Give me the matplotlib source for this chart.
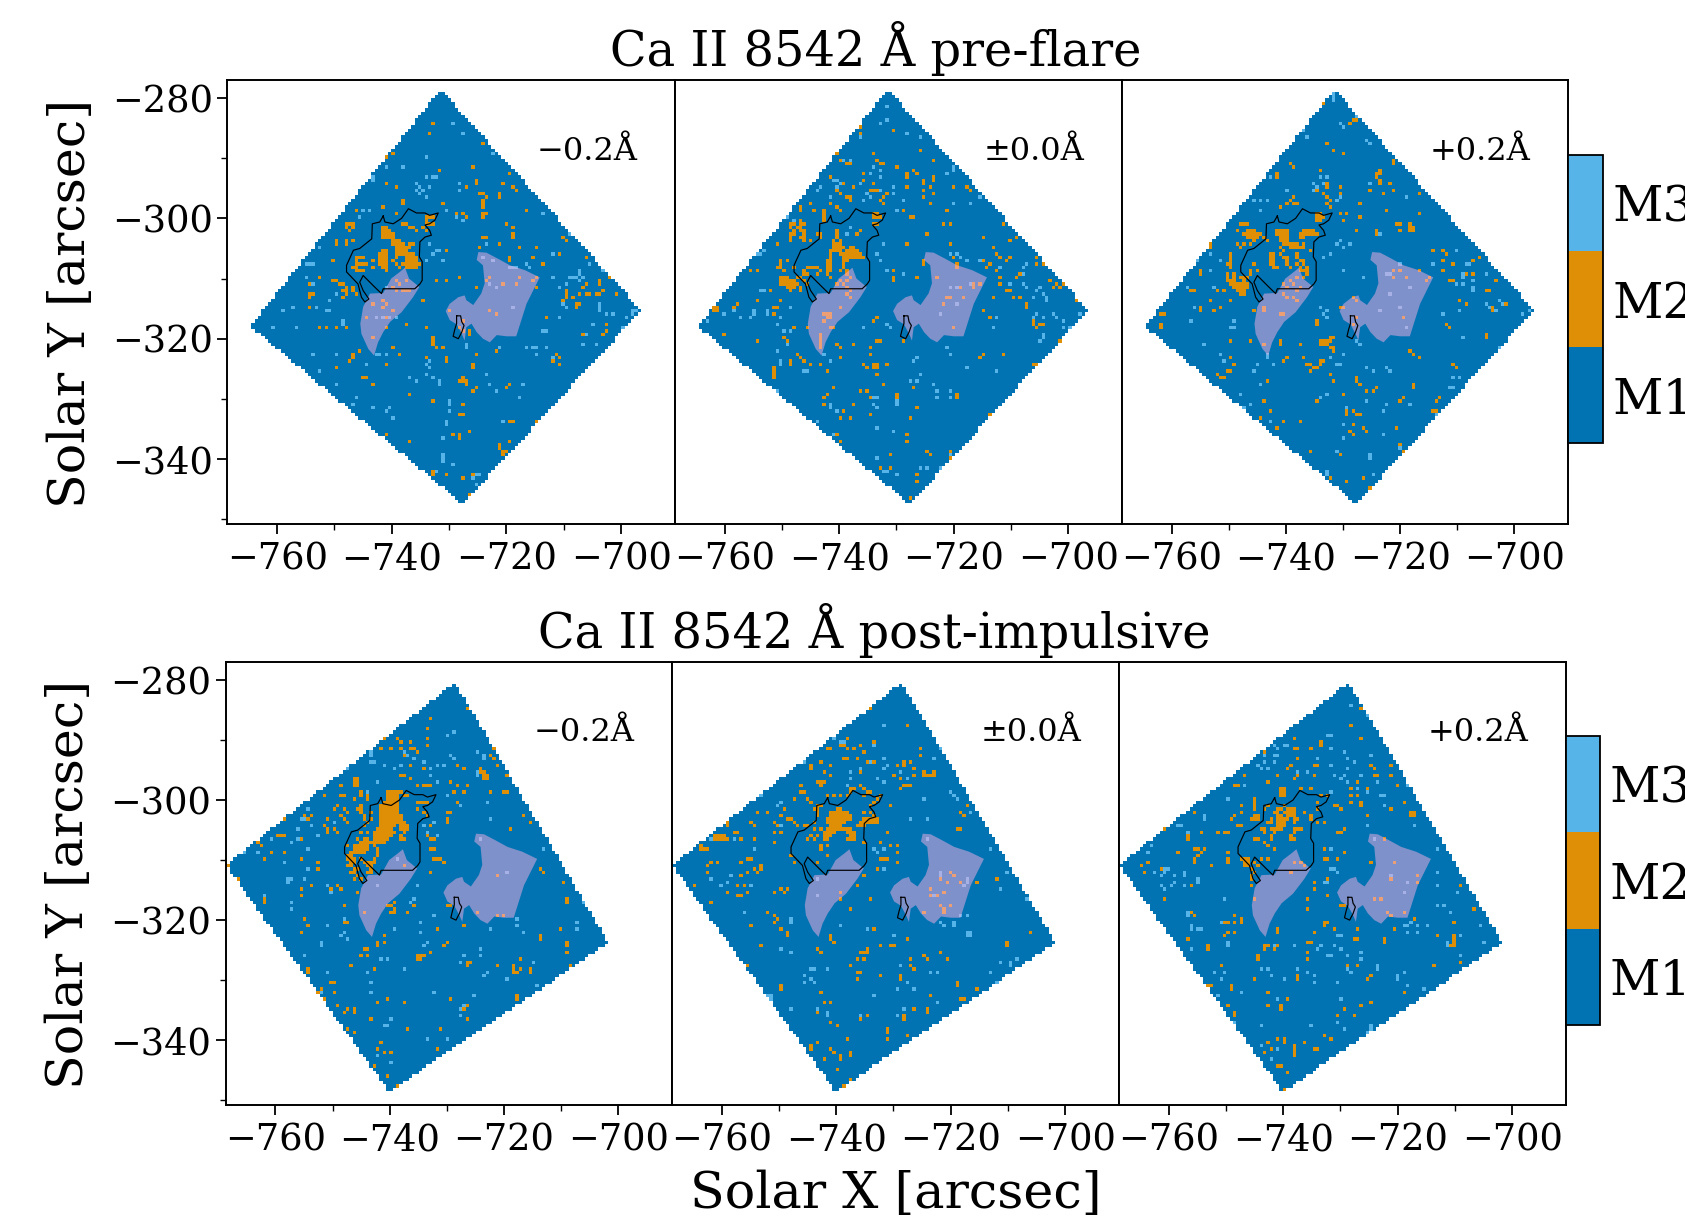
"""Ca II 8542 k-means style class maps, pre-flare and post-impulsive."""
import numpy as np
import matplotlib
matplotlib.use("Agg")
import matplotlib.pyplot as plt
from matplotlib.cm import ScalarMappable
from matplotlib.colors import BoundaryNorm, ListedColormap
from matplotlib.path import Path
from matplotlib.ticker import MultipleLocator

plt.rcParams["font.family"] = "DejaVu Serif"

CLASS_COLORS = ["#0173B2", "#DE8F05", "#56B4E9"]
CLASS_LABELS = ["M1", "M2", "M3"]
RIBBON_COLOR = "#FBAFE4"
OFFSETS = ["\u22120.2\u00c5", "\u00b10.0\u00c5", "+0.2\u00c5"]
TITLES = ["Ca II 8542 \u00c5 pre-flare", "Ca II 8542 \u00c5 post-impulsive"]

# map grid (arcsec per cell)
GRID_X0, GRID_DX = -770.0, 0.581
GRID_Y0, GRID_DY = -277.0, 0.556
GRID_NX, GRID_NY = 136, 134

# field of view corners, arcsec
PRE_FOV_X = [-731.5, -696.5, -727.7, -764.7]
PRE_FOV_Y = [-278.6, -315.3, -347.5, -317.9]
POST_FOV_X = [-728.6, -701.7, -740.1, -768.7]
POST_FOV_Y = [-280.4, -323.8, -348.6, -310.8]

# ribbon areas, arcsec
LEFT_RIBBON_X = [-737.7, -737.0, -735.2, -736.3, -738.3, -740.3, -741.5, -742.4, -743.1, -744.1, -745.3, -745.5, -745.0, -743.8, -741.5, -740.1, -738.6]
LEFT_RIBBON_Y = [-308.2, -310.0, -311.4, -313.1, -315.6, -317.2, -318.9, -320.6, -322.8, -321.7, -319.2, -317.5, -314.7, -312.5, -312.4, -310.0, -308.9]
RIGHT_RIBBON_X = [-724.9, -723.5, -721.5, -719.4, -716.8, -714.2, -715.3, -716.5, -717.4, -718.3, -720.0, -721.7, -722.9, -724.1, -725.2, -726.1, -727.0, -727.3, -727.8, -728.7, -729.9, -730.6, -729.9, -728.4, -727.3, -727.0, -725.8, -724.4, -723.8, -724.1, -725.2]
RIGHT_RIBBON_Y = [-305.6, -305.7, -306.7, -307.8, -308.6, -309.8, -311.9, -314.2, -316.9, -319.6, -319.6, -319.4, -320.6, -320.0, -318.9, -317.5, -318.1, -320.3, -319.2, -317.6, -316.9, -315.4, -314.2, -313.1, -312.8, -313.6, -314.4, -312.5, -310.8, -307.8, -306.9]

# magnetogram contours, arcsec
MAIN_CONTOUR_X = [-741.5, -741.2, -739.75, -738.3, -737.1, -735.7, -734.2, -733.4, -731.9, -732.5, -733.4, -734.2, -733.4, -733.1, -734.2, -735.1, -735.2, -734.7, -734.7, -735.1, -736.0, -741.5, -741.8, -743.0, -745.0, -745.6, -745.0, -744.0, -744.7, -745.3, -745.9, -747.9, -747.9, -746.7, -745.6, -743.5, -743.4, -742.1, -741.5]
MAIN_CONTOUR_Y = [-299.6, -300.6, -300.9, -300.0, -298.4, -299.1, -299.1, -299.5, -299.1, -300.3, -300.9, -301.1, -302.0, -302.8, -303.1, -303.9, -306.4, -307.2, -310.3, -310.9, -311.7, -311.7, -312.5, -311.4, -309.5, -310.6, -312.0, -313.4, -313.9, -313.1, -310.9, -308.9, -307.8, -305.3, -305.0, -303.4, -300.9, -300.6, -299.6]
SMALL_CONTOUR_X = [-728.7, -728.0, -727.8, -727.4, -727.8, -728.4, -729.3, -729.0, -728.7, -728.7]
SMALL_CONTOUR_Y = [-316.2, -316.2, -317.2, -317.8, -318.9, -320.0, -319.6, -318.4, -317.5, -316.2]

# class cells as (col, row) on the map grid, everything else in the FOV is M1
# *_SPANS are (row, first col, last col) runs of M2 in the dense parts
PRE_BLUE_M2_SPANS = [(48,52,54),(49,52,55),(50,53,57),(51,53,56),(52,53,55),(52,48,50),(53,48,50),(54,48,50),(55,48,50),(53,56,59),(54,56,59),(55,56,60),(56,56,59),(53,41,43),(55,41,44),(57,41,43)]
PRE_BLUE_M2 = [(57,14),(64,13),(63,16),(49,22),(50,23),(52,22),(46,25),(47,26),(50,26),(66,27),(76,26),(79,19),(45,27),(50,31),(77,30),(77,31),(74,32),(87,28),(85,31),(53,32),(78,34),(79,34),(80,35),(79,36),(79,37),(79,38),(79,40),(80,40),(79,41),(84,34),(84,35),(88,32),(89,33),(67,37),(92,39),(55,36),(55,37),(49,38),(41,39),(53,40),(71,40),(71,41),(73,40),(74,41),
    (38,43),(39,43),(40,43),(38,44),(40,44),(39,45),(49,44),(50,44),(49,45),(50,45),(51,45),(49,46),(50,46),(51,46),(52,46),(49,47),(50,47),(51,47),(52,47),(55,43),(56,43),(57,44),(58,44),(59,45),(62,41),(63,41),(64,41),(62,42),(62,43),(63,43),(64,43),(61,44),(62,45),(35,48),(35,49),(38,48),(38,49),(40,48),(52,49),(53,49),(54,50),(53,51),(54,51),(55,52),
    (49,51),(50,51),(48,52),(49,52),(50,52),(48,53),(49,53),(50,53),(49,54),(50,54),(49,55),(50,55),(49,56),(50,56),(50,57),(57,49),(58,49),(56,52),(57,52),(58,52),(56,53),(57,54),(58,54),(55,55),(56,55),(57,55),(58,55),(59,55),(56,56),(58,56),(53,53),(52,54),(53,55),(54,56),(41,53),(42,53),(43,53),(41,54),(41,55),(42,55),(43,55),(41,56),(41,57),(40,56),(42,57),(46,54),(46,56),
    (34,54),(34,60),(35,60),(36,61),(37,61),(38,62),(37,63),(38,63),(38,64),(37,65),(40,62),(40,63),(41,64),(27,61),(30,59),(27,64),(28,64),(27,65),(27,68),(30,46),(30,74),(32,74),(35,74),(37,73),(38,74),(65,60),(68,60),(72,59),(77,62),(61,66),(79,47),(80,47),(78,50),(84,49),(86,43),(88,44),(88,46),(88,47),(68,51),(87,54),(87,53),(90,50),(95,50),(94,53),(97,55),(102,52),(103,47),(104,48),(110,53),(111,55),(114,60),(114,61),(117,59),(118,59),(110,61),(109,62),(104,63),(104,64),(104,65),(103,66),(106,65),(108,64),(110,64),(111,64),(113,64),(114,64),(115,63),(107,67),(107,68),(108,67),(119,64),(98,71),(121,74),(118,70),(116,73),(116,75),(115,76),(109,76),(101,82),(102,83),(100,84),(102,85),
    (53,60),(54,61),(56,60),(52,62),(53,63),(55,63),(56,63),(57,63),(49,66),(50,67),(49,68),(46,67),(52,69),(47,71),(49,71),(50,71),(44,71),(50,74),(46,77),(69,69),(73,72),(72,74),(73,75),(81,59),(85,61),(90,59),(89,61),(95,59),(94,60),(95,62),(80,60),(83,70),(81,69),
    (64,77),(64,78),(64,79),(65,80),(67,80),(62,74),(56,73),(75,75),(75,76),(68,83),(68,84),(77,82),(83,81),(76,85),(76,86),(40,82),(40,83),(39,84),(42,81),(52,80),(54,82),(50,85),(35,86),(43,89),(44,89),(46,91),(62,83),(73,89),(73,90),(72,90),(74,90),(74,91),(77,92),(76,93),(86,92),(87,91),(57,94),(64,96),(73,97),(72,100),(73,100),(88,102),(87,102),(95,102),(75,105),(70,106),(72,106),(72,107),(50,106),(57,108),(84,109),(84,110),(85,111),(86,111),(85,112),(87,108),(64,117),(64,118),(73,119),(77,121),(75,124),(76,118),(68,118),(70,115)]
PRE_BLUE_M3 = [(58,12),(56,14),(70,13),(73,16),(62,23),(55,26),(50,26),(46,29),(46,30),(62,29),(64,29),(65,29),(59,31),(60,32),(61,33),(59,33),(60,34),(63,32),(72,31),(72,33),(62,35),(68,39),(71,41),(73,42),(43,39),(45,39),(42,41),(97,40),(105,46),(100,52),(106,46),(82,22),(80,49),(66,51),(65,51),(63,49),(64,52),(67,54),(62,54),(26,55),(27,55),(28,55),(30,50),(32,44),(26,59),(28,61),(35,64),(22,68),(19,69),(32,69),(33,69),(29,68),(33,66),(16,74),(23,74),(37,72),(37,73),(47,82),(48,82),(50,82),(28,82),(35,82),(30,87),(35,91),(44,85),(62,85),(63,84),(63,86),(62,88),(57,89),(59,90),(64,89),(66,90),(66,91),(80,88),(81,91),(91,91),(83,93),(90,95),(69,96),(69,97),(69,99),(41,95),(40,97),(46,98),(50,99),(51,98),(52,101),(68,102),(68,103),(85,102),(67,107),(67,112),(67,113),(67,114),(70,115),(65,117),(76,119),(77,118),(78,118),(77,121),(84,80),(74,79),(74,80),(92,80),(94,80),(95,80),(95,82),(98,80),(100,83),(109,79),(110,76),(113,79),(114,67),(114,68),(114,69),(116,70),(104,68),(103,67),(102,71),(97,75),(98,75),(112,73),(118,70),(124,69),(124,70),(125,69),(122,71),(121,74),(105,59),(106,59),(108,57),(108,58),(107,59),(108,60),(109,59),(104,61),(102,62),(111,55),(114,55),(115,57),(100,59),(87,56),(88,56),(89,56),(92,55),(93,56),(82,54),(79,53),(83,62),(81,61),(88,68),(47,71),(49,71),(51,71),(53,71),(50,62)]

PRE_CORE_M2_SPANS = [(50,50,52),(51,49,52),(51,54,57),(52,53,58),(53,54,59),(54,53,54),(54,48,49),(55,48,49),(60,34,38),(61,34,38),(46,37,38)]
PRE_CORE_M2 = [(55,15),(58,14),(58,16),(68,15),(80,17),(52,19),(53,19),(51,21),(51,22),(62,22),(76,21),(63,24),(64,25),(65,25),(52,24),(54,25),(55,25),(46,24),(46,25),(45,26),(44,27),(69,26),(80,24),(59,28),(44,29),(72,28),(72,29),(74,27),(75,28),(80,29),(80,30),(49,29),(77,30),(77,31),(59,30),(62,31),(62,33),(61,33),(63,33),(56,32),(72,32),(79,32),(86,32),(90,32),(91,33),(53,31),(51,33),(52,34),(54,35),(55,35),(55,36),(65,35),(66,34),(64,36),(77,33),(77,35),(80,34),(79,37),(40,38),(40,39),(43,37),(44,39),(49,37),(47,39),(47,40),(47,41),(47,42),(52,39),(51,38),(65,37),(62,40),(63,40),(62,41),(63,41),(64,41),(62,43),(63,43),(71,39),(73,41),(74,41),(84,39),(83,43),(85,43),
    (37,43),(38,43),(37,44),(38,45),(37,46),(38,46),(37,47),(37,48),(39,44),(40,42),(40,43),(41,43),(40,44),(40,45),(41,45),(41,46),(40,47),(41,47),(41,48),(43,48),(45,46),(46,46),(46,47),(33,49),(51,45),(51,46),(51,47),(52,48),(52,49),(51,49),(50,48),(50,49),(49,51),(50,51),(51,51),(52,52),(49,52),(49,53),(49,54),(48,54),(48,55),(48,56),(49,56),(48,57),(49,57),(48,58),(49,59),(53,53),(53,54),(53,55),(53,56),(52,57),(53,50),(55,50),(56,50),(54,52),(55,52),(56,52),(57,52),(58,52),(55,53),(56,53),(57,53),(59,53),(57,51),(56,51),(58,45),(57,46),
    (42,56),(43,56),(44,56),(45,56),(46,57),(41,58),(42,58),(45,58),(41,57),(38,56),(39,59),(40,59),(41,60),(42,61),(34,59),(35,59),(36,59),(34,60),(35,60),(36,60),(37,60),(35,61),(36,61),(37,61),(36,62),(37,62),(38,62),(37,63),(35,57),(34,54),(34,55),(34,56),(36,54),(39,61),(40,62),(40,63),(33,56),(31,63),(25,57),(27,57),(22,56),(21,58),(20,59),(14,68),(15,68),(14,69),(15,69),(17,76),(21,67),(20,68),(27,66),(32,68),(33,68),(32,70),(27,78),(34,66),(36,78),(35,77),(42,74),(38,74),(39,82),
    (77,54),(77,55),(68,57),(68,59),(68,60),(75,59),(72,49),(78,46),(85,49),(86,53),(87,55),(87,56),(95,47),(101,43),(105,47),(98,50),(99,52),(100,53),(102,54),(103,53),(103,48),(95,54),(96,56),(97,55),(99,57),(100,59),(100,61),(102,63),(103,63),(105,59),(106,58),(111,53),(111,55),(113,55),(115,60),(117,61),(118,62),(116,62),(119,61),(122,63),(98,65),(104,65),(106,65),(108,67),(108,68),(123,66),(95,69),(97,71),(110,71),(110,72),(110,73),(111,74),(112,73),(113,73),(118,78),(119,78),(110,85),(111,85),(101,82),(95,82),(94,83),
    (54,57),(54,58),(55,59),(54,60),(53,61),(54,62),(55,63),(54,64),(55,65),(52,60),(51,61),(52,68),(47,70),(48,70),(49,70),(48,71),(49,71),(47,72),(46,76),(46,77),(46,78),(46,79),(46,80),(49,74),(50,74),(81,59),(88,62),(84,65),(85,65),(83,67),(89,65),(92,61),(94,61),(92,62),(86,74),
    (63,71),(62,72),(71,78),(56,79),(51,79),(52,80),(52,83),(63,78),(64,78),(61,80),(61,82),(59,85),(62,85),(63,85),(62,86),(63,86),(60,86),(66,85),(40,83),(37,84),(37,85),(43,85),(41,84),(46,85),(48,87),(32,86),(32,87),(32,88),(32,89),(63,88),(65,91),(74,92),(69,94),(69,95),(58,93),(60,93),(61,95),(87,95),(87,94),(35,96),(50,92),(47,95),(47,97),(48,94),(56,97),(53,99),(75,98),(61,100),(52,101),(55,101),(73,101),(97,100),(97,101),(51,106),(52,108),(72,106),(72,108),(78,111),(79,112),(85,111),(85,113),(67,112),(64,116),(67,116),(75,118),(75,120),(73,125),(78,116)]
PRE_CORE_M3 = [(66,8),(72,16),(66,12),(64,13),(58,17),(76,17),(53,24),(55,24),(62,26),(64,27),(61,28),(86,26),(86,27),(84,28),(50,30),(51,30),(52,31),(51,32),(46,32),(45,33),(58,31),(64,29),(64,33),(68,32),(68,34),(60,34),(59,36),(61,35),(71,36),(49,35),(86,37),(91,37),(69,39),(94,35),(38,42),(36,41),(34,41),(29,46),(29,51),(28,52),(27,52),(25,52),(55,44),(54,46),(65,49),(63,52),(64,54),(66,57),(71,58),(87,52),(88,53),(90,54),(85,52),(94,54),(100,56),(107,56),(107,58),(107,61),(108,62),(111,63),(112,62),(114,65),(114,66),(108,55),(110,65),(113,64),(103,61),(110,71),(111,70),(113,71),(116,70),(117,71),(119,72),(119,74),(121,74),(124,70),(113,76),(112,78),(99,71),(98,74),(28,63),(29,63),(26,69),(26,70),(30,69),(30,70),(22,71),(25,71),(34,71),(33,73),(37,68),(37,75),(35,75),(12,72),(20,69),(17,70),(34,84),(34,85),(36,79),(33,81),(47,82),(49,84),(42,87),(41,87),(49,97),(49,98),(51,99),(62,95),(63,95),(62,97),(63,98),(69,96),(69,97),(75,90),(76,88),(73,90),(80,91),(81,93),(81,95),(85,93),(85,95),(74,84),(75,83),(66,73),(67,74),(59,74),(84,80),(85,82),(90,86),(99,87),(109,90),(113,77),(63,104),(68,105),(45,102),(50,106),(63,113),(65,117),(66,117),(69,118),(76,116),(78,116),(82,116),(88,112),(85,112),(33,93),(85,62),(87,62),(91,61),(82,70),(87,67)]

PRE_RED_M2_SPANS = [(46,40,44),(47,40,43),(46,50,52),(47,50,52),(48,50,52),(45,57,60),(46,57,60),(49,53,55),(50,53,57),(61,35,40),(62,36,40),(63,37,39)]
PRE_RED_M2 = [(57,12),(63,7),(71,13),(72,12),(73,12),(81,18),(64,19),(66,21),(69,22),(52,19),(51,21),(49,23),(53,25),(54,26),(45,26),(47,26),(49,28),(49,29),(62,27),(80,27),(79,28),(80,28),(79,29),(80,30),(80,31),(84,24),(84,25),(83,31),(44,29),(64,31),(64,32),(63,34),(64,35),(65,36),(64,37),(65,38),(61,33),(68,32),(68,34),(77,33),(84,33),(81,34),(92,34),(54,35),(53,36),(54,37),(52,37),(55,37),(50,38),(74,37),(82,39),(68,40),(70,40),(74,41),(92,40),(69,42),(61,40),(62,40),(63,41),(61,41),(62,41),(61,42),(62,42),(85,43),(86,43),(89,43),(89,44),(89,45),(90,45),(90,44),(86,45),(73,45),(79,45),(79,46),
    (38,43),(39,43),(40,43),(37,45),(40,45),(41,45),(42,45),(39,46),(40,46),(41,46),(42,46),(40,47),(41,47),(42,48),(43,47),(44,46),(37,49),(39,49),(38,50),(41,49),(45,47),(46,48),(49,45),(50,45),(51,45),(52,45),(49,46),(50,46),(51,46),(52,46),(50,47),(51,47),(52,47),(50,48),(51,48),(51,49),(52,49),(56,46),(57,45),(58,45),(59,45),(60,45),(61,46),(58,46),(59,46),(60,46),(56,47),(57,47),(54,49),(55,49),(53,50),(54,50),(55,50),(56,50),(57,49),
    (47,52),(48,52),(47,53),(48,53),(47,54),(48,54),(47,55),(48,55),(49,56),(48,56),(50,50),(51,51),(50,52),(51,53),(52,53),(52,54),(52,55),(53,56),(55,52),(55,53),(56,54),(55,55),(56,56),(57,57),(56,57),(57,54),(57,55),(58,56),(58,57),(58,58),(57,59),(59,51),
    (35,52),(35,53),(35,54),(34,55),(35,55),(35,56),(34,58),(34,59),(35,60),(34,60),(35,61),(36,58),(36,59),(36,60),(36,61),(37,61),(37,62),(36,62),(37,63),(38,63),(38,64),(39,64),(38,62),(39,62),(40,62),(40,61),(39,60),(38,59),(39,59),(40,59),(41,58),(41,57),(42,55),(43,57),(29,49),(29,50),(26,57),(26,58),(23,63),(24,63),(31,63),(33,63),(35,66),(29,66),(26,68),(26,69),(30,69),(32,68),(42,69),(14,70),(15,70),(14,73),(14,74),(35,78),(41,78),(35,83),(36,85),(31,88),(32,89),(33,89),(34,87),(35,87),
    (53,60),(55,59),(51,61),(52,62),(54,61),(56,62),(55,63),(51,64),(52,65),(54,65),(55,66),(45,68),(45,69),(50,70),(51,70),(45,79),(68,68),(69,68),(72,65),(73,66),(73,71),(72,73),(84,57),(86,57),(84,59),(88,59),(95,59),(94,60),(87,71),
    (61,72),(61,73),(62,78),(63,78),(64,78),(64,79),(65,80),(65,78),(66,77),(63,79),(62,79),(66,80),(66,81),(65,77),(50,78),(50,79),(56,79),(52,83),(51,84),(57,83),(59,85),(58,85),(59,87),(62,84),(62,85),(61,86),(60,86),(63,84),(65,88),(66,90),(73,89),(73,90),(74,91),(89,81),(90,82),(92,83),(90,91),(90,92),(76,93),(78,93),(79,92),(100,73),(101,74),(112,76),(112,77),(119,77),(113,84),(102,85),(103,86),(97,96),(98,95),(96,99),(97,99),(86,96),(87,95),(69,94),(61,96),(46,90),(45,96),(47,99),(44,101),(51,102),(49,104),(56,102),(70,99),(70,100),(72,99),(73,100),(74,100),(72,103),(71,105),(72,106),(75,104),(76,105),(85,104),(86,109),(87,111),(59,111),(68,112),(65,119),(75,119),(70,120),(77,122),(101,60),(102,60),(106,58),(108,58),(108,54),(110,53),(96,51),(99,51),(100,52),(99,54),(102,55),(99,57),(92,57),(112,63),(113,63),(115,60),(117,58),(104,66),(106,67),(114,68),(114,69),(118,67)]
PRE_RED_M3 = [(66,4),(66,5),(66,6),(73,11),(68,13),(69,14),(56,15),(57,15),(55,16),(58,17),(76,18),(77,19),(47,29),(60,31),(62,29),(64,29),(61,32),(60,33),(63,31),(68,35),(67,36),(77,31),(52,33),(42,36),(44,36),(46,36),(88,35),(35,39),(44,39),(80,46),(67,49),(68,48),(69,50),(71,49),(65,52),(63,53),(69,57),(75,59),(86,55),(82,58),(83,58),(89,62),(96,55),(103,51),(106,55),(107,55),(105,58),(105,59),(105,61),(108,60),(108,62),(108,63),(103,61),(112,58),(112,67),(113,68),(116,66),(117,67),(115,69),(125,67),(125,69),(123,70),(104,69),(99,70),(105,77),(116,80),(102,89),(104,89),(107,92),(102,92),(101,92),(82,86),(83,87),(76,86),(78,87),(69,82),(65,83),(67,85),(68,85),(62,68),(64,69),(63,70),(64,71),(73,78),(74,79),(27,79),(32,82),(33,84),(36,72),(35,74),(36,74),(24,68),(23,72),(22,62),(30,62),(29,57),(25,54),(32,54),(29,52),(43,85),(42,87),(48,85),(44,91),(38,94),(41,97),(39,98),(47,102),(62,95),(64,94),(70,98),(76,96),(82,97),(81,99),(89,97),(97,100),(69,103),(69,107),(67,111),(64,117),(64,118),(77,112),(77,113),(81,106),(86,110),(78,118),(80,69),(86,68),(83,64),(88,74),(46,82),(46,83)]

POST_BLUE_M2 = [(75,12),(75,14),(80,18),(64,17),(63,20),(48,22),(49,22),(50,23),(54,23),(63,23),(63,25),(58,24),(58,26),(59,26),(55,24),(46,25),(49,26),(55,26),(56,28),(52,26),(41,28),(60,27),(83,26),(82,28),(83,29),(84,31),(88,32),(58,31),(55,34),(56,34),(62,32),(72,31),(74,32),(79,32),(79,33),(80,33),(80,34),(81,34),(80,35),(81,35),(87,34),(41,35),(42,35),(41,36),(42,36),(41,37),(42,37),(48,36),(66,36),(70,36),(72,37),(75,37),(74,39),(86,39),(87,39),(82,39),(93,40),(58,35),(71,39),(60,37),(62,37),(63,37),(64,37),(37,37),(37,40),(38,40),(32,40),(43,39),(45,40),(43,40),(45,41),(41,41),(36,43),(38,44),(39,45),(35,44),(43,43),(42,44),(43,44),(43,45),(44,46),(44,47),(37,46),(38,47),(39,48),(33,47),(32,49),(33,50),(35,50),(36,51),(33,51),
    (46,45),(46,47),(45,48),(44,49),(43,51),(45,51),(42,53),(44,53),(45,53),(41,55),(42,55),(43,55),(44,55),(45,55),(47,51),(47,52),(47,53),(47,54),(47,55),(48,56),(48,57),(48,58),(47,59),(47,60),(46,60),(46,61),(45,61),(39,55),(39,58),(40,58),(39,59),(40,59),(41,59),(40,60),(41,60),(39,61),(40,61),(41,62),(42,62),(40,63),(41,63),(42,64),(41,65),(43,65),(43,59),(44,60),(45,60),(46,62),(45,63),
    (62,45),(63,46),(60,44),(69,45),(70,45),(69,47),(64,49),(69,48),(72,42),(63,52),(64,53),(65,53),(65,56),(64,56),(65,59),(66,59),(67,59),(68,60),(88,50),(92,46),(94,48),(64,63),(26,46),(28,46),(27,47),(19,47),(20,47),(18,52),(19,52),(20,52),(25,53),(12,54),(13,55),(16,57),(20,57),(14,59),(25,59),(30,60),(30,62),(3,61),(6,65),(28,67),(25,68),(25,70),(34,68),(36,67),(37,68),(14,71),(14,72),(42,69),(38,73),(22,74),(26,77),(27,79),(38,78),(39,78),(25,81),(27,92),(27,93),(26,95),(34,96),(35,96),(31,98),(30,99),(35,99),(32,101),(36,103),(38,105),(39,104),(41,104),(41,105),(39,110),(41,111),(46,107),(51,101),(56,102),(48,102),(49,114),(48,116),(50,117),(52,117),(47,121),(51,124),(54,127),
    (53,72),(53,74),(52,75),(51,73),(59,73),(53,75),(57,75),(50,82),(48,84),(48,85),(44,86),(45,86),(43,88),(45,88),(50,84),(60,88),(61,88),(62,88),(60,89),(61,89),(64,87),(66,80),(69,84),(68,85),(74,79),(40,91),(47,92),(75,90),(76,90),(75,91),(84,91),(89,91),(89,92),(90,93),(89,93),(91,92),(91,89),(94,92),(94,93),(106,91),(97,82),(97,83),(105,84),(105,85),(105,87),(103,80),(105,71),(105,72),(104,66),(97,62),(98,63),(102,56),(110,70),(90,100),(90,101),(104,94),(57,110),(67,110),(65,99),(70,101),(73,106),(74,104),(75,103),(75,107),(66,116),
    (56,61),(53,72),(52,73),(69,73),(70,73),(84,64),(78,75),(84,76),(86,76),(44,75),(45,63),(46,63)]
POST_BLUE_M2_SPANS = [(39,51,55),(40,51,54),(40,56,57),(41,51,54),(42,50,54),(42,60,63),(43,49,54),(44,49,54),(45,49,54),(46,49,55),(47,49,55),(48,49,56),(49,49,53),(49,55,57),(50,48,52),(50,55,57),(51,48,53),(51,56,56),(52,48,52),(52,55,55),(53,48,51),(53,55,56),(54,48,50),(54,43,46),(56,41,45),(57,40,44)]
POST_BLUE_M3 = [(77,14),(53,19),(55,18),(52,21),(71,21),(69,22),(46,27),(46,28),(46,30),(47,30),(43,28),(50,31),(53,32),(55,31),(56,27),(57,28),(59,29),(62,30),(64,32),(66,31),(68,31),(70,28),(71,29),(78,27),(80,28),(80,29),(78,33),(78,34),(37,32),(39,32),(64,34),(66,36),(69,40),(73,43),(81,42),(82,47),(48,36),(45,39),(65,48),(62,49),(63,51),(66,52),(97,47),(27,44),(25,47),(26,47),(28,49),(30,52),(24,50),(35,48),(13,52),(16,53),(22,54),(24,53),(27,56),(12,57),(8,57),(20,60),(27,62),(21,65),(22,65),(21,66),(26,65),(33,67),(34,69),(22,72),(22,74),(14,70),(38,77),(38,81),(37,82),(39,83),(33,79),(31,84),(31,85),(26,88),(33,93),(46,96),(46,99),(45,93),(31,99),(51,109),(50,109),(52,107),(63,113),(69,113),(48,118),(52,120),(56,92),(59,71),(58,72),(60,67),(53,80),(61,81),(61,78),(65,76),(63,84),(62,85),(49,89),(51,89),(79,86),(79,88),(74,88),(73,90),(81,93),(80,94),(95,90),(82,80),(90,77),(90,79),(92,81),(108,78),(108,80),(110,72),(96,97),(103,95),(87,95),(73,104),(73,106),(77,100),(74,103),(65,99),(54,59),(48,67),(87,63),(98,56),(79,53)]

POST_CORE_M2 = [(55,17),(62,14),(73,19),(50,26),(49,26),(55,23),(53,25),(54,25),(55,26),(57,26),(54,29),(59,25),(60,27),(63,24),(42,27),(43,28),(39,30),(39,31),(41,29),(44,31),(44,32),(47,30),(50,31),(48,33),(50,34),(55,29),(58,29),(59,33),(61,30),(63,30),(77,26),(77,28),(72,30),(74,30),(75,32),(75,34),(72,31),(70,31),(69,34),(71,35),(78,33),(79,34),(80,34),(81,34),(81,33),(78,34),(88,31),(88,32),(73,37),(74,37),(72,37),(71,38),(46,36),(47,36),(48,36),(47,37),(41,37),(41,39),(42,39),(43,41),(44,42),(45,44),(39,41),(36,44),(35,46),(37,47),(38,47),(39,48),(40,49),(31,45),(33,48),(34,49),(35,51),(33,51),(28,45),(26,48),(27,49),(42,49),(43,49),(56,38),(57,38),(59,37),(60,38),(61,39),(60,40),(62,39),(65,40),(64,41),(63,42),(62,43),(56,39),(55,40),(51,40),(53,40),(49,40),(46,43),(47,43),(46,44),(46,45),(46,46),
    (60,45),(62,45),(63,46),(68,43),(45,48),(45,50),(47,50),(48,53),(44,52),(46,52),(43,53),(45,53),(60,54),(47,55),(47,56),(49,55),(49,58),(38,58),(39,60),(46,60),(15,52),(16,52),(17,52),(18,52),(15,53),(16,53),(17,53),(18,53),(19,53),(21,51),(22,51),(23,53),(27,53),(19,48),(19,49),(11,55),(12,56),(13,56),(11,56),(33,54),(13,61),(13,63),(14,60),(16,60),(23,60),(25,59),(26,59),(25,63),(27,62),(29,61),(28,63),(29,62),(23,64),(9,67),(22,67),(24,67),(19,69),(22,70),(23,70),(25,69),(33,69),(35,68),(37,68),(36,69),(14,72),(31,75),(33,76),(33,78),(34,77),(35,80),(26,79),(37,81),(37,82),(29,85),(25,91),(50,82),(50,83),(51,84),(46,86),(47,87),(61,86),(60,87),(59,87),(61,87),(58,89),(60,89),(56,91),(58,93),(59,93),(58,95),(65,85),(68,85),(69,85),(73,83),(63,80),(53,69),(56,74),(53,71),(58,67),(60,64),(62,71),(64,62),(65,59),(66,59),(67,59),(70,57),(70,60),(68,55),(70,55),(65,54),(67,51),
    (89,50),(88,50),(89,45),(90,46),(91,43),(94,66),(100,65),(85,89),(83,87),(78,88),(79,89),(74,89),(74,91),(75,92),(65,94),(71,94),(71,95),(88,96),(88,97),(94,98),(89,101),(90,101),(80,100),(79,104),(79,105),(75,104),(72,106),(72,107),(103,84),(103,85),(110,81),(112,88),(35,97),(35,98),(32,102),(47,99),(48,102),(50,102),(46,105),(50,108),(52,109),(59,107),(61,106),(67,110),(67,111),(67,113),(73,112),(73,115),(70,117),(55,113),(44,115),(44,116),(46,114),(50,116),(51,117),(48,119),(53,118),(53,119),(56,117),(56,118),(52,122),(56,125),(54,127),
    (86,63),(87,64),(83,65),(85,66),(84,69),(80,68),(80,70),(82,70),(83,73),(84,74),(84,75),(86,73),(89,66),(78,75)]
POST_CORE_M2_SPANS = [(44,52,53),(45,50,55),(46,50,56),(47,49,56),(48,49,54),(49,50,53),(50,49,52),(51,48,51),(52,48,50),(53,48,49),(47,60,64),(48,59,64),(49,58,60),(50,53,56),(51,55,57),(52,56,57),(53,55,57)]
POST_CORE_M3 = [(51,23),(53,24),(54,24),(51,21),(66,19),(79,19),(83,26),(81,29),(42,30),(63,25),(66,29),(67,31),(66,32),(62,30),(64,35),(66,36),(56,33),(56,35),(55,37),(59,32),(71,33),(73,35),(86,39),(87,40),(88,41),(78,41),(74,47),(79,47),(92,45),(35,42),(34,43),(35,49),(18,48),(17,49),(14,53),(21,53),(27,56),(32,36),(29,40),(20,64),(19,66),(17,67),(26,67),(14,65),(24,75),(38,77),(38,78),(35,86),(38,87),(63,56),(64,57),(66,56),(66,62),(53,79),(61,80),(69,82),(83,78),(87,78),(87,79),(89,76),(91,76),(91,81),(92,81),(91,82),(92,82),(84,79),(45,92),(44,92),(42,94),(44,95),(45,96),(42,96),(49,92),(71,91),(82,93),(80,93),(73,96),(75,98),(70,98),(98,93),(101,90),(104,90),(106,89),(104,91),(100,96),(31,100),(32,100),(31,101),(32,101),(38,104),(46,104),(49,105),(49,106),(59,106),(63,100),(70,106),(72,104),(82,102),(103,63),(101,68),(109,71),(93,102),(46,65),(46,70),(83,63),(83,64),(91,65),(91,66),(90,67),(81,70),(98,56),(79,53)]

POST_RED_M2_SPANS = [(44,53,55),(45,53,55),(46,53,55),(47,50,52),(48,50,51),(49,50,52),(50,48,50),(46,50,51)]
POST_RED_M2 = [(75,14),(72,19),(79,19),(80,19),(51,19),(52,19),(49,21),(55,23),(75,23),(63,24),(63,25),(60,26),(55,26),(56,26),(44,25),(42,27),(46,27),(56,29),(54,31),(53,32),(50,34),(61,31),(62,31),(56,34),(55,35),(61,34),(78,31),(79,32),(84,31),(87,30),(84,34),(80,34),(79,34),(86,28),(74,36),(77,38),(86,37),(37,37),(38,37),(35,41),(32,36),(40,34),(47,36),(43,41),(43,42),(43,43),(43,44),(39,43),(51,38),(52,38),(51,39),(52,39),(51,40),(52,40),(60,38),(57,38),(63,40),(65,40),(62,42),(67,43),(72,38),(72,40),(74,40),(72,42),(75,42),(75,43),(68,43),(69,44),(77,46),(90,45),(91,45),(90,46),(91,46),(88,42),(84,44),(43,46),(44,46),(43,47),(44,47),(36,47),(37,46),(38,49),(39,49),(35,51),(34,51),(32,51),(39,45),(42,47),(27,51),(25,45),(14,51),(16,50),
    (52,43),(50,44),(51,44),(49,45),(50,45),(52,45),(54,44),(55,44),(53,45),(54,45),(55,45),(48,47),(50,47),(51,47),(53,47),(55,47),(56,47),(47,48),(48,48),(50,48),(52,48),(55,48),(45,50),(46,50),(48,50),(50,50),(51,50),(55,50),(56,50),(46,51),(48,52),(49,51),(54,52),(55,51),(57,50),(43,53),(44,53),(48,53),(46,54),(54,53),(55,53),(60,47),(62,48),(64,48),(60,46),(62,44),(58,45),(68,51),(69,51),(70,50),(46,44),(47,43),(47,55),(49,56),(47,59),(45,59),
    (39,59),(40,59),(41,60),(41,59),(40,60),(41,61),(40,61),(42,62),(43,60),(44,61),(42,64),(43,63),(42,65),(42,67),(35,57),(35,59),(35,60),(25,56),(26,56),(28,56),(27,57),(25,59),(25,60),(26,58),(20,57),(23,52),(23,53),(30,61),(11,60),(9,61),(10,63),(15,62),(24,67),(16,71),(24,75),(25,76),(34,78),(35,78),(37,78),(39,77),(39,78),(37,76),(37,81),(35,81),(34,82),(23,83),(29,85),(29,86),(20,87),(25,93),(25,94),(33,91),(29,97),(30,97),(36,97),(36,98),(31,101),(35,103),(37,105),(37,106),(43,95),
    (50,80),(50,81),(46,85),(47,85),(46,86),(49,86),(50,85),(44,88),(44,89),(59,84),(60,84),(59,87),(59,89),(61,81),(64,78),(65,78),(64,79),(67,80),(74,80),(73,83),(74,83),(82,83),(82,84),(85,80),(91,77),(103,78),(98,82),(103,82),(103,83),(103,84),(103,85),(102,85),(105,67),(109,74),(105,90),(97,91),(59,71),(59,74),(61,66),(61,68),(65,70),(65,65),(69,73),(70,73),(64,56),(64,59),(65,59),(68,59),(70,57),(71,91),(74,91),(72,93),(78,94),(77,95),(88,99),(56,94),(56,95),(47,99),(53,101),(47,103),(51,103),(51,104),(70,104),(73,106),(68,106),(78,102),(75,103),(55,115),(55,116),(55,117),(55,118),(50,113),(52,113),(52,114),(47,114),(48,116),(46,117),(58,114),(61,116),(62,116),(64,112),(66,113),(70,117),(51,121),(50,121),(53,123),(52,128),
    (55,60),(57,60),(58,61),(54,63),(43,71),(79,71),(81,71),(85,60),(84,65),(89,66),(92,66),(92,64),(83,75),(84,76),(88,75),(78,60),(82,53)]
POST_RED_M3 = [(72,13),(77,16),(65,22),(66,22),(52,25),(53,25),(49,25),(50,26),(50,28),(49,28),(46,28),(46,30),(42,29),(44,31),(45,32),(47,32),(49,30),(66,26),(70,27),(78,28),(62,29),(71,29),(73,30),(66,31),(67,34),(69,35),(70,34),(71,32),(75,34),(59,33),(56,33),(40,37),(66,39),(71,36),(74,38),(77,39),(80,36),(81,40),(82,40),(82,43),(89,37),(91,49),(77,49),(28,46),(28,47),(20,49),(21,49),(18,48),(35,41),(23,51),(12,55),(11,57),(16,62),(17,62),(15,64),(16,63),(13,63),(19,64),(22,63),(22,64),(26,65),(26,66),(15,67),(16,68),(18,67),(19,66),(22,67),(7,70),(34,71),(23,75),(23,76),(24,79),(24,80),(26,80),(27,80),(33,78),(35,84),(35,85),(24,86),(34,93),(33,95),(31,93),(39,99),(32,100),(45,92),(47,92),(48,94),(52,95),(56,92),(59,93),(61,94),(61,96),(68,96),(69,101),(55,85),(49,85),(63,85),(62,86),(65,88),(66,88),(67,85),(69,86),(69,82),(68,82),(71,88),(75,87),(75,89),(80,91),(80,92),(71,92),(72,93),(86,94),(86,95),(88,93),(89,97),(94,98),(97,99),(66,62),(67,62),(68,63),(64,66),(65,66),(66,56),(89,79),(88,79),(90,78),(92,79),(89,81),(92,81),(95,79),(98,73),(100,73),(102,75),(98,63),(98,67),(104,69),(101,84),(101,85),(105,82),(105,88),(112,84),(111,79),(45,109),(50,101),(60,109),(68,108),(70,110),(78,109),(78,110),(77,111),(48,119),(45,115),(50,116),(37,108),(84,64),(89,66),(88,69),(98,56),(79,53)]

W, H = 1685, 1217


def axes_px(fig, x0, y0, x1, y1):
    # rectangle given in picture pixels, y down
    return fig.add_axes([x0 / W, 1 - y1 / H, (x1 - x0) / W, (y1 - y0) / H])


def class_map(fov_x, fov_y, m2, m3, spans=()):
    cols, rows = np.meshgrid(np.arange(GRID_NX), np.arange(GRID_NY))
    xc = GRID_X0 + cols * GRID_DX
    yc = GRID_Y0 - rows * GRID_DY
    inside = Path(np.column_stack([fov_x, fov_y])).contains_points(
        np.column_stack([xc.ravel(), yc.ravel()])).reshape(xc.shape)
    grid = np.zeros(xc.shape)
    for row, c0, c1 in spans:
        grid[row, c0:c1 + 1] = 1
    for c, r in m2:
        grid[r, c] = 1
    for c, r in m3:
        grid[r, c] = 2
    return np.ma.masked_where(~inside, grid)


def draw_panel(ax, fov_x, fov_y, m2, m3, spans, label):
    xe = GRID_X0 + (np.arange(GRID_NX + 1) - 0.5) * GRID_DX
    ye = GRID_Y0 - (np.arange(GRID_NY + 1) - 0.5) * GRID_DY
    ax.pcolormesh(xe, ye, class_map(fov_x, fov_y, m2, m3, spans), cmap=CMAP, norm=NORM, rasterized=True)
    ax.fill(LEFT_RIBBON_X, LEFT_RIBBON_Y, color=RIBBON_COLOR, alpha=0.5, lw=0)
    ax.fill(RIGHT_RIBBON_X, RIGHT_RIBBON_Y, color=RIBBON_COLOR, alpha=0.5, lw=0)
    ax.plot(MAIN_CONTOUR_X, MAIN_CONTOUR_Y, color="black", lw=0.85)
    ax.plot(SMALL_CONTOUR_X, SMALL_CONTOUR_Y, color="black", lw=0.85)
    ax.text(0.803, 0.84, label, transform=ax.transAxes, ha="center", va="center", fontsize=23)
    ax.set_xlim(XLIM)
    ax.set_ylim(YLIM)
    ax.xaxis.set_major_locator(MultipleLocator(20))
    ax.xaxis.set_minor_locator(MultipleLocator(10))
    ax.yaxis.set_major_locator(MultipleLocator(20))
    ax.yaxis.set_minor_locator(MultipleLocator(10))
    ax.tick_params(which="major", labelsize=26.5, length=7, width=1.3)
    ax.tick_params(axis="x", which="major", pad=5.5)
    ax.tick_params(which="minor", length=4, width=1.0)
    for sp in ax.spines.values():
        sp.set_linewidth(1.4)


CMAP = ListedColormap(CLASS_COLORS)
NORM = BoundaryNorm([-0.5, 0.5, 1.5, 2.5], 3)
XLIM = (-768.7, -690.6)
YLIM = (-350.8, -277.0)

fig = plt.figure(figsize=(W / 100, H / 100), dpi=100)

rows = [
    dict(x=[227.3, 675, 1122, 1568], y=(80, 524), fov=(PRE_FOV_X, PRE_FOV_Y), cbar=(1568, 155, 1603, 443),
         panels=[(PRE_BLUE_M2, PRE_BLUE_M3, PRE_BLUE_M2_SPANS), (PRE_CORE_M2, PRE_CORE_M3, PRE_CORE_M2_SPANS), (PRE_RED_M2, PRE_RED_M3, PRE_RED_M2_SPANS)],
         title=TITLES[0], title_xy=(876, 49)),
    dict(x=[225.7, 672, 1119, 1566], y=(662, 1105), fov=(POST_FOV_X, POST_FOV_Y), cbar=(1566, 736, 1600, 1025),
         panels=[(POST_BLUE_M2, POST_BLUE_M3, POST_BLUE_M2_SPANS), (POST_CORE_M2, POST_CORE_M3, POST_CORE_M2_SPANS), (POST_RED_M2, POST_RED_M3, POST_RED_M2_SPANS)],
         title=TITLES[1], title_xy=(874, 630)),
]

for spec in rows:
    y0, y1 = spec["y"]
    for i, (m2, m3, spans) in enumerate(spec["panels"]):
        ax = axes_px(fig, spec["x"][i], y0, spec["x"][i + 1], y1)
        draw_panel(ax, spec["fov"][0], spec["fov"][1], m2, m3, spans, OFFSETS[i])
        if i > 0:
            ax.tick_params(axis="y", which="both", left=False, labelleft=False)
    fig.text(spec["title_xy"][0] / W, 1 - spec["title_xy"][1] / H, spec["title"],
             ha="center", va="center", fontsize=34.5)
    cax = axes_px(fig, *spec["cbar"])
    cb = fig.colorbar(ScalarMappable(norm=NORM, cmap=CMAP), cax=cax, ticks=[0, 1, 2])
    cb.ax.set_yticklabels(CLASS_LABELS)
    cb.ax.tick_params(length=0, labelsize=35.5, pad=7)
    cb.ax.minorticks_off()
    cb.outline.set_linewidth(1.3)

fig.text(71 / W, 1 - 303 / H, "Solar Y [arcsec]", rotation=90, ha="center", va="center", fontsize=36.5)
fig.text(69 / W, 1 - 884 / H, "Solar Y [arcsec]", rotation=90, ha="center", va="center", fontsize=36.5)
fig.text(896 / W, 1 - 1194 / H, "Solar X [arcsec]", ha="center", va="center", fontsize=36.5)

fig.savefig("out.png", dpi=100)
